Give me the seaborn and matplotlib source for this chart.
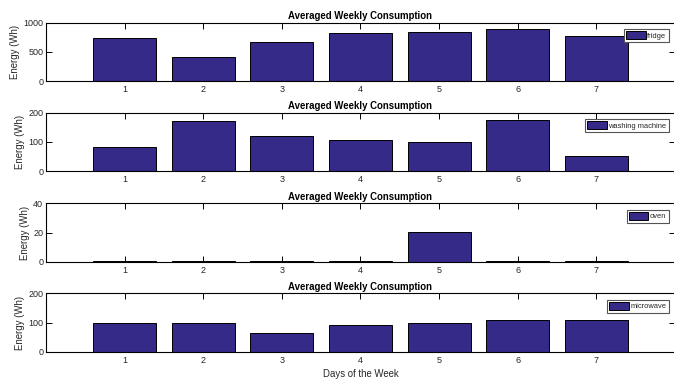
import matplotlib
matplotlib.use('Agg')
import matplotlib.pyplot as plt
import seaborn as sns
import pandas as pd
from matplotlib.patches import Patch

# Values (Wh, averaged per weekday)
days = [1, 2, 3, 4, 5, 6, 7]
fridge = [743, 412, 674, 818, 840, 886, 777]
washing_machine = [83, 170, 120, 108, 100, 175, 51]
oven = [0.3, 0.3, 0.3, 0.3, 20.5, 0.3, 0.3]
microwave = [99, 99, 63, 90, 97, 108, 110]

appliances = ['fridge', 'washing machine', 'oven', 'microwave']
series = [fridge, washing_machine, oven, microwave]
y_limits = [(0, 1000), (0, 200), (0, 40), (0, 200)]
y_ticks = [[0, 500, 1000], [0, 100, 200], [0, 20, 40], [0, 100, 200]]

bar_color = '#352a87'
text_color = '#262626'

sns.set_style('ticks')
plt.rcParams['font.family'] = ['Liberation Sans', 'DejaVu Sans']
plt.rcParams['font.size'] = 6.5

fig = plt.figure(figsize=(6.74, 3.81), dpi=100)
W, H = 674, 381
left, right = 46, 675
tops = [22.7, 112.7, 203.3, 293.3]
height = 58.5

for i, (name, vals) in enumerate(zip(appliances, series)):
    top = tops[i]
    ax = fig.add_axes([left / W, 1 - (top + height) / H, (right - left) / W, height / H])
    df = pd.DataFrame({'day': days, 'energy': vals})
    sns.barplot(data=df, x='day', y='energy', native_scale=True, width=0.8,
                color=bar_color, saturation=1, edgecolor='black', linewidth=0.7,
                ax=ax)
    ax.set_xlim(0, 8)
    ax.set_ylim(*y_limits[i])
    ax.set_xticks(days)
    ax.set_xticklabels([str(d) for d in days])
    ax.set_yticks(y_ticks[i])
    ax.tick_params(direction='in', length=4, width=0.7, colors='black',
                   labelcolor=text_color, labelsize=6.5, pad=3,
                   top=True, right=True)
    ax.tick_params(axis='y', pad=2)
    for s in ax.spines.values():
        s.set_visible(True)
        s.set_linewidth(0.8)
        s.set_color('black')
    ax.set_title('Averaged Weekly Consumption', fontsize=6.9, fontweight='bold',
                 color='black', pad=2.5)
    ax.set_ylabel('Energy (Wh)', fontsize=6.9, color=text_color, labelpad=2)
    if i == len(appliances) - 1:
        ax.set_xlabel('Days of the Week', fontsize=6.9, color=text_color, labelpad=3)
    else:
        ax.set_xlabel('')
    handle = Patch(facecolor=bar_color, edgecolor='black', linewidth=0.7)
    leg = ax.legend([handle], [name], loc='upper right', fontsize=5.4,
                    frameon=True, fancybox=False, framealpha=1,
                    borderaxespad=0.85, handlelength=2.6, handleheight=1.2,
                    handletextpad=0.2, borderpad=0.3)
    leg.get_frame().set_edgecolor('#555555')
    leg.get_frame().set_linewidth(0.8)

fig.savefig('out.png', dpi=100)
